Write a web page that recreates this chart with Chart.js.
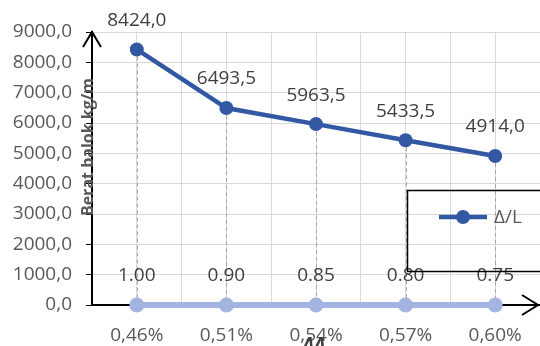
<!DOCTYPE html>
<html>
<head>
<meta charset="utf-8">
<script src="https://cdn.jsdelivr.net/npm/chart.js@4"></script>
<style>
  html, body { margin: 0; padding: 0; background: #fff; }
  #wrap { width: 540px; height: 346px; position: relative; }
</style>
</head>
<body>
<div id="wrap"><canvas id="chart"></canvas></div>
<script>
// data
const categories = ['0,46%', '0,51%', '0,54%', '0,57%', '0,60%'];
const beratBalok = [8424.0, 6493.5, 5963.5, 5433.5, 4914.0];
const rasio = [1.00, 0.90, 0.85, 0.80, 0.75];
const yTicks = [0, 1000, 2000, 3000, 4000, 5000, 6000, 7000, 8000, 9000];

const darkBlue = '#3258a4';
const lightBlue = '#a2b4df';
const FONT = '"Open Sans", "Noto Sans", sans-serif';
const FS = 19;

const toPoints = arr => arr.map((v, i) => ({ x: i, y: v }));

// gray dashed drop lines from the top series to the axis
const dropLines = {
  id: 'dropLines',
  beforeDatasetsDraw(chart) {
    const ctx = chart.ctx;
    const y0 = chart.scales.y.getPixelForValue(0);
    ctx.save();
    ctx.strokeStyle = '#a6a6a6';
    ctx.lineWidth = 1;
    ctx.setLineDash([4, 3]);
    chart.getDatasetMeta(0).data.forEach(pt => {
      ctx.beginPath();
      ctx.moveTo(Math.round(pt.x) + 0.5, pt.y);
      ctx.lineTo(Math.round(pt.x) + 0.5, y0);
      ctx.stroke();
    });
    ctx.restore();
  }
};

// value labels above the points
const valueLabels = {
  id: 'valueLabels',
  afterDatasetsDraw(chart) {
    const ctx = chart.ctx;
    ctx.save();
    ctx.font = FS + 'px ' + FONT;
    ctx.fillStyle = '#404040';
    ctx.textAlign = 'center';
    ctx.textBaseline = 'middle';
    chart.data.datasets.forEach((ds, di) => {
      chart.getDatasetMeta(di).data.forEach((pt, i) => {
        const v = ds.data[i].y;
        const txt = di === 0 ? v.toFixed(1).replace('.', ',') : v.toFixed(2);
        ctx.fillText(txt, pt.x, pt.y - 29);
      });
    });
    ctx.restore();
  }
};

// arrows, axis titles, legend box
const decorations = {
  id: 'decorations',
  afterDraw(chart) {
    const ctx = chart.ctx;
    const a = chart.chartArea;
    ctx.save();
    ctx.strokeStyle = '#000';
    ctx.lineWidth = 2;
    // y arrow
    ctx.beginPath();
    ctx.moveTo(a.left - 9, a.top + 15);
    ctx.lineTo(a.left, a.top);
    ctx.lineTo(a.left + 9, a.top + 15);
    ctx.stroke();
    // x arrow
    const yb = a.bottom;
    ctx.beginPath();
    ctx.moveTo(522, yb - 10);
    ctx.lineTo(538, yb);
    ctx.lineTo(522, yb + 10);
    ctx.stroke();

    // y axis title
    ctx.fillStyle = '#595959';
    ctx.font = 'bold 16px ' + FONT;
    ctx.textAlign = 'center';
    ctx.textBaseline = 'alphabetic';
    ctx.translate(93, 147);
    ctx.rotate(-Math.PI / 2);
    ctx.fillText('Berat balok kg/m', 0, 0);
    ctx.setTransform(1, 0, 0, 1, 0, 0);

    // x axis title (cut off at the bottom edge)
    ctx.font = 'italic bold 19px ' + FONT;
    ctx.fillStyle = '#404040';
    ctx.fillText('ΔΛ', 314, 351);

    // legend box
    ctx.lineWidth = 1.5;
    ctx.strokeStyle = '#000';
    ctx.strokeRect(407.5, 190.5, 140, 81);
    ctx.strokeStyle = darkBlue;
    ctx.lineWidth = 4.5;
    ctx.beginPath();
    ctx.moveTo(439, 217);
    ctx.lineTo(487, 217);
    ctx.stroke();
    ctx.fillStyle = darkBlue;
    ctx.beginPath();
    ctx.arc(463, 217, 7, 0, Math.PI * 2);
    ctx.fill();
    ctx.fillStyle = '#595959';
    ctx.font = FS + 'px ' + FONT;
    ctx.textAlign = 'left';
    ctx.textBaseline = 'middle';
    ctx.fillText(chart.data.datasets[0].label, 494, 218);
    ctx.restore();
  }
};

new Chart(document.getElementById('chart'), {
  type: 'line',
  data: {
    datasets: [
      {
        label: 'Δ/L',
        data: toPoints(beratBalok),
        borderColor: darkBlue,
        backgroundColor: darkBlue,
        borderWidth: 4.5,
        pointRadius: 7,
        pointBorderWidth: 0,
        tension: 0,
        clip: false
      },
      {
        label: 'rasio',
        data: toPoints(rasio),
        borderColor: lightBlue,
        backgroundColor: lightBlue,
        borderWidth: 6,
        pointRadius: 7.5,
        pointBorderWidth: 0,
        tension: 0,
        clip: false
      }
    ]
  },
  options: {
    responsive: true,
    maintainAspectRatio: false,
    animation: false,
    layout: { autoPadding: false, padding: { top: 32, left: 0, right: 0, bottom: 0 } },
    plugins: {
      legend: { display: false },
      tooltip: { enabled: false }
    },
    scales: {
      x: {
        type: 'linear',
        min: -0.5,
        max: categories.length - 0.5,
        afterBuildTicks(scale) {
          const t = [];
          for (let v = -0.5; v <= categories.length - 0.5; v += 0.5) t.push({ value: v });
          scale.ticks = t;
        },
        afterFit(scale) {
          scale.height = 41;
          scale.paddingLeft = 0;
          scale.paddingRight = 0;
        },
        grid: { color: '#d9d9d9', drawTicks: false },
        border: { color: '#000', width: 2 },
        ticks: {
          padding: 19,
          color: '#595959',
          font: { family: FONT, size: FS },
          maxRotation: 0,
          autoSkip: false,
          callback: v => Number.isInteger(v) ? categories[v] : ''
        }
      },
      y: {
        min: yTicks[0],
        max: yTicks[yTicks.length - 1],
        afterBuildTicks(scale) {
          scale.ticks = yTicks.map(v => ({ value: v }));
        },
        afterFit(scale) {
          scale.width = 92;
          scale.paddingTop = 0;
          scale.paddingBottom = 0;
        },
        grid: { color: '#d9d9d9', tickColor: '#000', tickLength: 6 },
        border: { color: '#000', width: 2 },
        ticks: {
          padding: 14,
          color: '#595959',
          font: { family: FONT, size: FS },
          callback: v => v.toFixed(1).replace('.', ',')
        }
      }
    }
  },
  plugins: [dropLines, valueLabels, decorations]
});
</script>
</body>
</html>
